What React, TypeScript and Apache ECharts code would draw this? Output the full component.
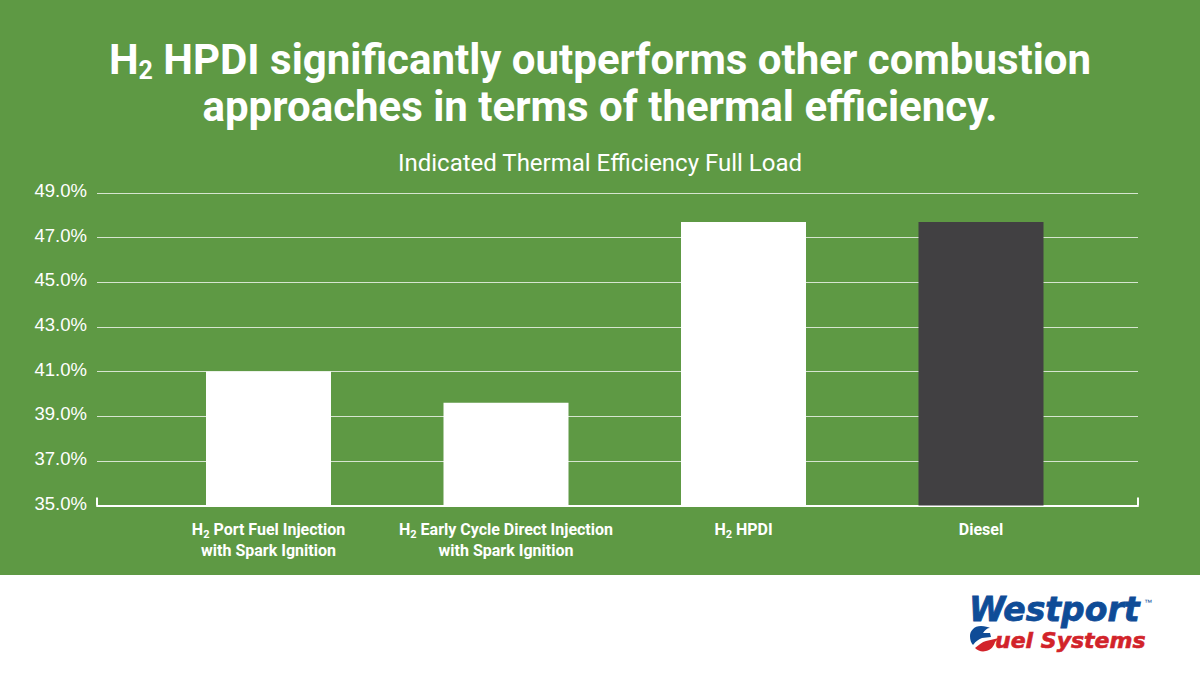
import { useEffect, useRef } from 'react';
import * as echarts from 'echarts';

const categories = [
  'H₂ Port Fuel Injection\nwith Spark Ignition',
  'H₂ Early Cycle Direct Injection\nwith Spark Ignition',
  'H₂ HPDI',
  'Diesel',
];
const efficiency = [41.0, 39.6, 47.7, 47.7];
const barColors = ['#ffffff', '#ffffff', '#ffffff', '#414042'];
const yTicks = [35, 37, 39, 41, 43, 45, 47, 49];

const headline = 'H₂ HPDI significantly outperforms other combustion\napproaches in terms of thermal efficiency.';
const chartTitle = 'Indicated Thermal Efficiency Full Load';

const GREEN = '#5e9944';

echarts.graphic.registerShape(
  'fuelBlue',
  echarts.graphic.extendPath(
    'M11 0 C4 0 0 5 0 10 C0 14 1 17 3 19 C6 15 9 13 12 12 L21 11 L20 7 L13 7 C15 4 17 2 20 2 C18 1 15 0 11 0 Z',
    {},
  ),
);
echarts.graphic.registerShape(
  'fuelRed',
  echarts.graphic.extendPath(
    'M29 12 L16 15 C12 16 9 19 5 22 C8 25 12 26 16 25 C21 24 24 20 25 16 Z',
    {},
  ),
);

// turns the ₂ glyph into a rich text run so it sits below the line
const withSub = (text: string, style: string, sub: string) =>
  text
    .split('\n')
    .map((line) =>
      line
        .split('₂')
        .map((part) => `{${style}|${part}}`)
        .join(`{${sub}|2}`),
    )
    .join('\n');

export default function App() {
  const chartRef = useRef<HTMLDivElement>(null);

  useEffect(() => {
    if (!chartRef.current) return;
    document.body.style.margin = '0';

    const chart = echarts.init(chartRef.current, null, { renderer: 'svg' });

    const option: echarts.EChartsOption = {
      animation: false,
      backgroundColor: '#ffffff',
      title: [
        {
          text: withSub(headline, 'h', 'hs'),
          left: 595,
          top: 31,
          textAlign: 'center',
          textStyle: {
            rich: {
              h: {
                color: '#ffffff',
                fontFamily: 'Roboto',
                fontWeight: 'bold',
                fontSize: 42,
                lineHeight: 47,
              },
              hs: {
                color: '#ffffff',
                fontFamily: 'Roboto',
                fontWeight: 'bold',
                fontSize: 25,
                lineHeight: 47,
                verticalAlign: 'bottom',
              },
            },
          },
        },
        {
          text: chartTitle,
          left: 595,
          top: 146,
          textAlign: 'center',
          textStyle: { color: '#ffffff', fontFamily: 'Roboto', fontWeight: 'normal', fontSize: 24 },
        },
      ],
      grid: [
        // frame: gridlines and axis run wider than the bars' category bands
        { left: 97, width: 1041, top: 193, height: 312.5 },
        { left: 149.75, width: 950, top: 193, height: 312.5 },
      ],
      xAxis: [
        {
          type: 'category',
          gridIndex: 0,
          data: [''],
          axisLine: { lineStyle: { color: '#ffffff', width: 2 } },
          axisTick: { show: true, inside: true, length: 8, lineStyle: { color: '#ffffff', width: 2 } },
          axisLabel: { show: false },
        },
        {
          type: 'category',
          gridIndex: 1,
          data: categories,
          axisLine: { show: false },
          axisTick: { show: false },
          axisLabel: {
            margin: 13,
            interval: 0,
            formatter: (value: string) => withSub(value, 't', 's'),
            rich: {
              t: {
                color: '#ffffff',
                fontFamily: 'Roboto',
                fontWeight: 'bold',
                fontSize: 16,
                lineHeight: 21,
              },
              s: {
                color: '#ffffff',
                fontFamily: 'Roboto',
                fontWeight: 'bold',
                fontSize: 11,
                lineHeight: 21,
                verticalAlign: 'bottom',
              },
            },
          },
        },
      ],
      yAxis: [
        {
          type: 'value',
          gridIndex: 0,
          min: 35,
          max: 49,
          axisLine: { show: false },
          axisTick: { show: false, customValues: yTicks },
          axisLabel: {
            customValues: yTicks,
            color: '#ffffff',
            fontFamily: 'Liberation Sans',
            fontSize: 18.5,
            margin: 10,
            verticalAlign: 'bottom',
            lineHeight: 5,
            formatter: (value: number) => `${value.toFixed(1)}%`,
          },
          splitLine: { show: true, lineStyle: { color: 'rgba(255,255,255,0.75)', width: 1 } },
        },
        {
          type: 'value',
          gridIndex: 1,
          min: 35,
          max: 49,
          axisLine: { show: false },
          axisTick: { show: false },
          axisLabel: { show: false },
          splitLine: { show: false },
        },
      ],
      series: [
        {
          type: 'bar',
          xAxisIndex: 1,
          yAxisIndex: 1,
          barWidth: 125,
          z: 3,
          data: efficiency.map((value, i) => ({ value, itemStyle: { color: barColors[i] } })),
        },
      ],
      graphic: [
        // green panel behind the chart, white strip with the logo below it
        { type: 'rect', z: -10, silent: true, shape: { x: 0, y: 0, width: 1200, height: 575 }, style: { fill: GREEN } },
        { type: 'fuelBlue', x: 970, y: 626, style: { fill: '#0f4c97' } },
        { type: 'fuelRed', x: 970, y: 626, style: { fill: '#d2232a' } },
        {
          type: 'text',
          x: 969,
          y: 593,
          style: {
            text: 'Westport',
            fill: '#0f4c97',
            stroke: '#0f4c97',
            lineWidth: 0.8,
            fontFamily: 'DejaVu Sans',
            fontWeight: 'bold',
            fontStyle: 'italic',
            fontSize: 33,
          },
        },
        {
          type: 'text',
          x: 1144,
          y: 598,
          style: { text: '™', fill: '#0f4c97', fontFamily: 'Liberation Sans', fontSize: 8 },
        },
        {
          type: 'text',
          x: 995,
          y: 629,
          style: {
            text: 'uel Systems',
            fill: '#d2232a',
            stroke: '#d2232a',
            lineWidth: 0.6,
            fontFamily: 'DejaVu Sans',
            fontWeight: 'bold',
            fontStyle: 'italic',
            fontSize: 22,
          },
        },
      ],
    };

    chart.setOption(option);

    return () => {
      chart.dispose();
    };
  }, []);

  return <div ref={chartRef} style={{ width: 1200, height: 675 }} />;
}
